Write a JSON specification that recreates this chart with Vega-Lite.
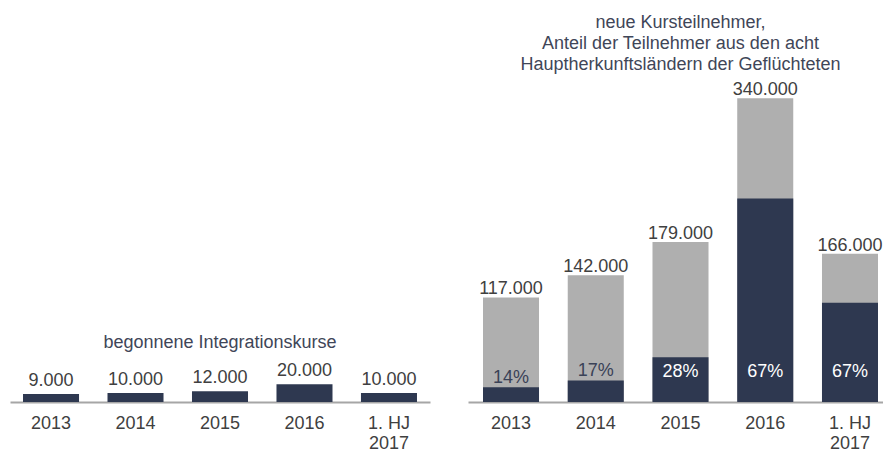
{
  "$schema": "https://vega.github.io/schema/vega-lite/v6.json",
  "padding": {"left": 10, "top": 0, "right": 0, "bottom": 0},
  "background": "white",
  "spacing": 38,
  "config": {
    "view": {"stroke": null},
    "font": "Liberation Sans",
    "axisX": {
      "title": null,
      "ticks": false,
      "grid": false,
      "domainColor": "#A6A6A6",
      "domainWidth": 2,
      "labelFont": "Liberation Sans",
      "labelFontSize": 18,
      "labelColor": "#404040",
      "labelPadding": 12,
      "labelLineHeight": 20,
      "labelAngle": 0,
      "labelExpr": "datum.value == '1. HJ 2017' ? ['1. HJ', '2017'] : datum.value"
    }
  },
  "datasets": {
    "kurse": [
      {"jahr": "2013", "kurse": 9000, "label": "9.000"},
      {"jahr": "2014", "kurse": 10000, "label": "10.000"},
      {"jahr": "2015", "kurse": 12000, "label": "12.000"},
      {"jahr": "2016", "kurse": 20000, "label": "20.000"},
      {"jahr": "1. HJ 2017", "kurse": 10000, "label": "10.000"}
    ],
    "teilnehmer": [
      {"jahr": "2013", "gesamt": 117000, "hauptherkunft": 16380, "label": "117.000", "anteil": "14%"},
      {"jahr": "2014", "gesamt": 142000, "hauptherkunft": 24140, "label": "142.000", "anteil": "17%"},
      {"jahr": "2015", "gesamt": 179000, "hauptherkunft": 50120, "label": "179.000", "anteil": "28%"},
      {"jahr": "2016", "gesamt": 340000, "hauptherkunft": 227800, "label": "340.000", "anteil": "67%"},
      {"jahr": "1. HJ 2017", "gesamt": 166000, "hauptherkunft": 111220, "label": "166.000", "anteil": "67%"}
    ]
  },
  "hconcat": [
    {
      "width": 420,
      "height": 402,
      "data": {"name": "kurse"},
      "encoding": {
        "x": {
          "field": "jahr", "type": "nominal", "sort": null,
          "scale": {"paddingInner": 0.337, "paddingOuter": 0.154, "align": 0.5},
          "axis": {}
        }
      },
      "layer": [
        {
          "mark": {"type": "bar", "color": "#2E3850"},
          "encoding": {
            "y": {"field": "kurse", "type": "quantitative", "scale": {"domain": [0, 450000], "nice": false}, "axis": null}
          }
        },
        {
          "mark": {"type": "text", "baseline": "bottom", "dy": -4, "fontSize": 18, "color": "#404040"},
          "encoding": {
            "y": {"field": "kurse", "type": "quantitative", "scale": {"domain": [0, 450000], "nice": false}, "axis": null},
            "text": {"field": "label"}
          }
        },
        {
          "data": {"values": [{"titel": "begonnene  Integrationskurse"}]},
          "mark": {"type": "text", "baseline": "middle", "fontSize": 18, "color": "#3F4658"},
          "encoding": {
            "x": {"datum": "2015"},
            "y": {"datum": 66000, "type": "quantitative"},
            "text": {"field": "titel"}
          }
        }
      ]
    },
    {
      "width": 415,
      "height": 402,
      "data": {"name": "teilnehmer"},
      "encoding": {
        "x": {
          "field": "jahr", "type": "nominal", "sort": null,
          "scale": {"paddingInner": 0.339, "paddingOuter": 0.118, "align": 0.75},
          "axis": {}
        }
      },
      "layer": [
        {
          "mark": {"type": "bar", "color": "#AFAFAF"},
          "encoding": {
            "y": {"field": "gesamt", "type": "quantitative", "scale": {"domain": [0, 450000], "nice": false}, "axis": null}
          }
        },
        {
          "mark": {"type": "bar", "color": "#2E3850"},
          "encoding": {
            "y": {"field": "hauptherkunft", "type": "quantitative"}
          }
        },
        {
          "mark": {"type": "text", "baseline": "bottom", "dy": 1, "fontSize": 18, "color": "#404040"},
          "encoding": {
            "y": {"field": "gesamt", "type": "quantitative"},
            "text": {"field": "label"}
          }
        },
        {
          "transform": [{"filter": "datum.jahr == '2013' || datum.jahr == '2014'"}],
          "mark": {"type": "text", "baseline": "bottom", "dy": 0, "fontSize": 18, "color": "#3A4257"},
          "encoding": {
            "y": {"field": "hauptherkunft", "type": "quantitative"},
            "text": {"field": "anteil"}
          }
        },
        {
          "transform": [{"filter": "datum.jahr != '2013' && datum.jahr != '2014'"}],
          "mark": {"type": "text", "baseline": "middle", "fontSize": 18, "color": "white"},
          "encoding": {
            "y": {"datum": 34000, "type": "quantitative"},
            "text": {"field": "anteil"}
          }
        },
        {
          "data": {"values": [{"titel": "neue Kursteilnehmer,\nAnteil der Teilnehmer aus den acht\nHauptherkunftsländern der Geflüchteten"}]},
          "mark": {"type": "text", "baseline": "middle", "fontSize": 18, "lineHeight": 20.7, "lineBreak": "\n", "color": "#3F4658"},
          "encoding": {
            "x": {"datum": "2015"},
            "y": {"datum": 424000, "type": "quantitative"},
            "text": {"field": "titel"}
          }
        }
      ]
    }
  ]
}
